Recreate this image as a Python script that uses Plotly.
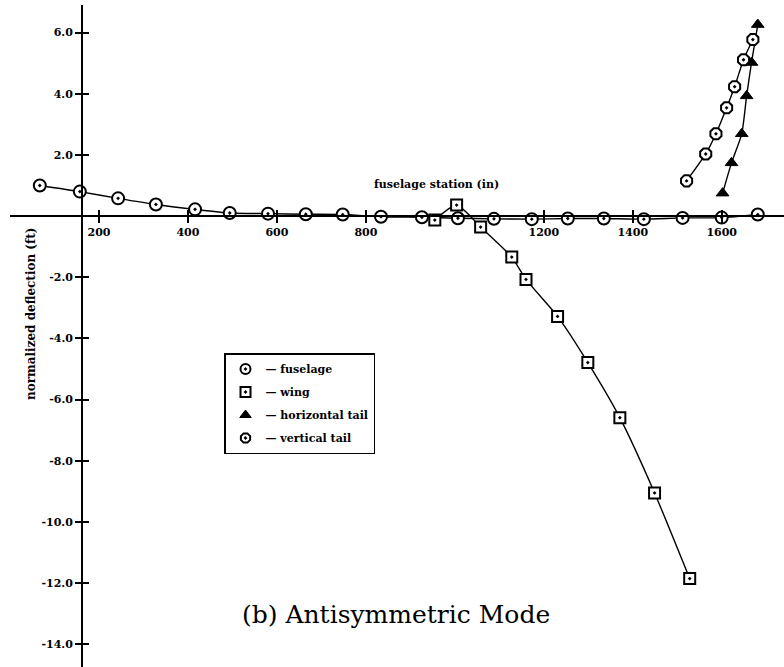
import plotly.graph_objects as go

# ---- data ----
fus_x = [67, 157, 243, 328, 416, 494, 580, 665, 748, 834, 926, 1007, 1088, 1173, 1254, 1335, 1425, 1512, 1600, 1681]
fus_y = [1.0, 0.8, 0.58, 0.38, 0.22, 0.1, 0.08, 0.06, 0.05, -0.02, -0.04, -0.07, -0.09, -0.1, -0.08, -0.08, -0.1, -0.06, -0.05, 0.05]

wing_x = [955, 1004, 1058, 1128, 1160, 1231, 1299, 1371, 1449, 1528]
wing_y = [-0.13, 0.36, -0.36, -1.34, -2.07, -3.28, -4.79, -6.59, -9.05, -11.85]

ht_x = [1602, 1622, 1645, 1656, 1667, 1681]
ht_y = [0.75, 1.74, 2.69, 3.93, 5.02, 6.26]

vt_x = [1521, 1564, 1587, 1611, 1629, 1649, 1670]
vt_y = [1.15, 2.03, 2.69, 3.54, 4.23, 5.11, 5.77]

x_ticks = [200, 400, 600, 800, 1200, 1400, 1600]
x_tick_labels = ["200", "400", "600", "800", "1200", "1400", "1600"]
y_ticks = [6, 4, 2, -2, -4, -6, -8, -10, -12, -14]
y_tick_labels = ["6.0", "4.0", "2.0", "-2.0", "-4.0", "-6.0", "-8.0", "-10.0", "-12.0", "-14.0"]

series_names = ["fuselage", "wing", "horizontal tail", "vertical tail"]

# ---- layout constants ----
X_RANGE = [0, 1740]
Y_RANGE = [-14.74, 6.9]
Y_AXIS_AT_X = 162

W, H = 784, 667
ML, MR, MT, MB = 10, 0, 5, 0
PW, PH = W - ML - MR, H - MT - MB

def px_x(p):
    return (p - ML) / PW

def px_y(p):
    return (H - MB - p) / PH

x_axis_pos = (0 - Y_RANGE[0]) / (Y_RANGE[1] - Y_RANGE[0])
y_axis_pos = (Y_AXIS_AT_X - X_RANGE[0]) / (X_RANGE[1] - X_RANGE[0])

FONT = "DejaVu Serif"

fig = go.Figure()

line_style = dict(color="black", width=1.4, shape="spline", smoothing=0.6)
marker_styles = [
    dict(symbol="circle-dot", size=12, color="white", line=dict(color="black", width=2)),
    dict(symbol="square-dot", size=11, color="white", line=dict(color="black", width=2)),
    dict(symbol="triangle-up", size=11, color="black", line=dict(color="black", width=1)),
    dict(symbol="octagon-dot", size=12, color="white", line=dict(color="black", width=2)),
]
data_sets = [(fus_x, fus_y), (wing_x, wing_y), (ht_x, ht_y), (vt_x, vt_y)]

for (xs, ys), ms, nm in zip(data_sets, marker_styles, series_names):
    fig.add_trace(go.Scatter(x=xs, y=ys, mode="lines+markers", line=line_style,
                             marker=ms, name=nm, showlegend=False, cliponaxis=False))

# legend entries (marker only, as in the reference)
for i, (ms, nm) in enumerate(zip(marker_styles, series_names)):
    lm = dict(ms)
    lm["size"] = 10
    fig.add_trace(go.Scatter(x=[None], y=[None], mode="markers", marker=lm,
                             name="\u2014 " + nm, showlegend=True, legendgroup="g%d" % i))

tickfont = dict(family=FONT, size=11, color="black", weight="bold")

fig.update_layout(
    width=W, height=H,
    margin=dict(l=ML, r=MR, t=MT, b=MB),
    paper_bgcolor="white", plot_bgcolor="white",
    showlegend=True,
    legend=dict(x=px_x(224), y=px_y(353), xanchor="left", yanchor="top",
                bordercolor="black", borderwidth=1.5, bgcolor="white",
                font=dict(family=FONT, size=11, color="black", weight="bold"),
                tracegroupgap=4, itemwidth=30, entrywidth=157),
    xaxis=dict(range=X_RANGE, anchor="free", position=x_axis_pos,
               showgrid=False, zeroline=False, showline=True, linecolor="black", linewidth=2,
               tickmode="array", tickvals=x_ticks, ticktext=x_tick_labels,
               ticks="outside", ticklen=6, tickwidth=2, tickcolor="black",
               tickfont=tickfont),
    yaxis=dict(range=Y_RANGE, anchor="free", position=y_axis_pos,
               showgrid=False, zeroline=False, showline=True, linecolor="black", linewidth=2,
               tickmode="array", tickvals=y_ticks, ticktext=y_tick_labels,
               ticks="outside", ticklen=6, tickwidth=2, tickcolor="black",
               tickfont=tickfont),
    xaxis2=dict(overlaying="x", matches="x", range=X_RANGE, anchor="free", position=x_axis_pos,
                side="top", showgrid=False, zeroline=False, showline=False,
                tickmode="array", tickvals=x_ticks, ticktext=[""] * len(x_ticks),
                ticks="outside", ticklen=6, tickwidth=2, tickcolor="black"),
    yaxis2=dict(overlaying="y", matches="y", range=Y_RANGE, anchor="free", position=y_axis_pos,
                side="right", showgrid=False, zeroline=False, showline=False,
                tickmode="array", tickvals=y_ticks, ticktext=[""] * len(y_ticks),
                ticks="outside", ticklen=6, tickwidth=2, tickcolor="black"),
    annotations=[
        dict(text="fuselage station (in)", xref="paper", yref="paper",
             x=px_x(436), y=px_y(185), showarrow=False, xanchor="center", yanchor="middle",
             font=dict(family=FONT, size=11, color="black", weight="bold")),
        dict(text="normalized deflection (ft)", xref="paper", yref="paper",
             x=px_x(31), y=px_y(314), showarrow=False, textangle=-90,
             xanchor="center", yanchor="middle",
             font=dict(family=FONT, size=12, color="black", weight="bold")),
        dict(text="(b) Antisymmetric Mode", xref="paper", yref="paper",
             x=px_x(396), y=px_y(614), showarrow=False, xanchor="center", yanchor="middle",
             font=dict(family=FONT, size=25, color="black")),
    ],
)

# invisible trace to activate the overlay axes
fig.add_trace(go.Scatter(x=[None], y=[None], xaxis="x2", yaxis="y2", showlegend=False,
                         hoverinfo="skip"))

fig.write_html("out.html")
